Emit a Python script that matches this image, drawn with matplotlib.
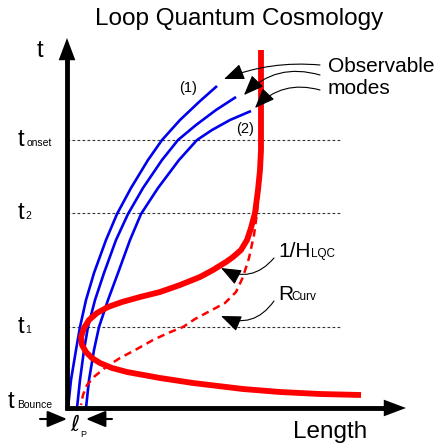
import matplotlib.pyplot as plt

plt.rcParams['font.family'] = ['Liberation Sans', 'DejaVu Sans']
plt.rcParams['mathtext.fontset'] = 'dejavusans'

# time levels (pixel rows of the sketch)
t_levels = [140, 213, 327]
t_names = ['onset', '2', '1']
t_sub_x = [27, 25, 25]

# blue observable modes (x, y)
mode1_x = [68, 71, 76, 80, 86, 94, 106, 117, 131, 148, 162, 180, 199, 217]
mode1_y = [408, 380, 350, 327, 300, 273, 240, 214, 188, 160, 140, 120, 102, 86]
mode2_x = [77, 80, 84, 88, 95, 104, 116, 128, 143, 162, 178, 196, 216, 236]
mode2_y = [408, 380, 350, 327, 300, 273, 240, 214, 188, 160, 140, 125, 110, 97]
mode3_x = [86, 89, 94, 99, 108, 118, 130, 141, 158, 179, 197, 212, 230, 251]
mode3_y = [408, 380, 350, 327, 300, 273, 240, 214, 188, 160, 140, 130, 120, 111]

# 1/H_LQC (thick red)
hub_x = [261, 261, 261, 260, 258, 255, 251, 247, 241, 233, 226, 213, 200, 180, 160, 140, 122, 108,
         97, 89, 84, 81, 82, 86, 92, 100, 112, 127, 160, 193, 243, 280, 320, 361]
hub_y = [50, 100, 150, 170, 190, 213, 228, 240, 250, 257, 262, 270, 277, 285, 292, 297, 302, 307,
         313, 320, 328, 337, 345, 352, 358, 363, 368, 372, 378, 383, 389, 392, 394, 395]

# R_curv (dashed red)
rc_x = [261, 259, 257, 254, 249, 243, 236, 225, 210, 195, 183, 168, 153, 137, 120, 106, 95, 87, 83, 81]
rc_y = [167, 190, 213, 235, 258, 277, 292, 303, 311, 319, 327, 333, 340, 349, 358, 367, 376, 385, 395, 405]

fig = plt.figure(figsize=(4.37, 4.44), dpi=100)
ax = fig.add_axes([0, 0, 1, 1])
ax.set_xlim(0, 437)
ax.set_ylim(444, 0)
ax.axis('off')

# dotted time levels
for y in t_levels:
    ax.plot([67, 340], [y, y], color='#333333', lw=0.8, ls=(0, (2.5, 2)))

# curves
for xs, ys in [(mode1_x, mode1_y), (mode2_x, mode2_y), (mode3_x, mode3_y)]:
    ax.plot(xs, ys, color='#0000ee', lw=1.9, solid_capstyle='butt', solid_joinstyle='round')
ax.plot(hub_x, hub_y, color='#ff0000', lw=4.2, solid_capstyle='butt', solid_joinstyle='round')
ax.plot(rc_x, rc_y, color='#ff0000', lw=1.8, ls=(0, (3, 2)))

# axes with arrow heads
ax.plot([67, 67], [410, 52], color='black', lw=3.5, solid_capstyle='butt')
ax.plot([65, 392], [408, 408], color='black', lw=3.5, solid_capstyle='butt')
big_head = dict(arrowstyle='-|>,head_length=1.6,head_width=0.6', color='black', lw=0,
                mutation_scale=10, shrinkA=0, shrinkB=0)
ax.annotate('', xy=(67, 38), xytext=(67, 62), arrowprops=big_head)
ax.annotate('', xy=(406, 408), xytext=(382, 408), arrowprops=big_head)

# Planck length arrows
small_head = dict(arrowstyle='-|>,head_length=1.2,head_width=0.5', color='black', lw=1.5,
                  mutation_scale=10, shrinkA=0, shrinkB=0)
ax.annotate('', xy=(67, 419), xytext=(40, 419), arrowprops=small_head)
ax.annotate('', xy=(86, 419), xytext=(112, 419), arrowprops=small_head)
ax.text(75, 431, r'$\ell$', fontsize=16, ha='center', va='baseline')
ax.text(80, 437, 'P', fontsize=6.5, ha='left', va='baseline')

# text labels
ax.text(239, 25, 'Loop Quantum Cosmology', fontsize=17.5, ha='center', va='baseline')
ax.text(40, 57, 't', fontsize=17, ha='center', va='baseline')
ax.text(330, 438, 'Length', fontsize=17.5, ha='center', va='baseline')

for y, name, sx in zip(t_levels, t_names, t_sub_x):
    ax.text(18, y + 6, 't', fontsize=17, ha='left', va='baseline')
    ax.text(sx, y + 6, name, fontsize=7.5, ha='left', va='baseline')
ax.text(8, 408, 't', fontsize=17, ha='left', va='baseline')
ax.text(17, 408, 'Bounce', fontsize=7.5, ha='left', va='baseline')

ax.text(188, 88, '(1)', fontsize=10.5, ha='center', va='center')
ax.text(245, 129, '(2)', fontsize=10.5, ha='center', va='center')

ax.text(328, 72, 'Observable', fontsize=15, ha='left', va='baseline')
ax.text(328, 94, 'modes', fontsize=15, ha='left', va='baseline')
ax.text(278, 257, '1/H', fontsize=15, ha='left', va='baseline')
ax.text(311, 257, 'LQC', fontsize=8.5, ha='left', va='baseline')
ax.text(278, 300, 'R', fontsize=15, ha='left', va='baseline')
ax.text(291, 300, 'Curv', fontsize=8.5, ha='left', va='baseline')

# pointer arrows
pointers = [((320, 65), (224, 79), 0.12),
            ((320, 75), (244, 95), 0.3),
            ((320, 90), (255, 108), 0.3),
            ((274, 258), (221, 268), -0.4),
            ((274, 301), (221, 316), -0.4)]
for start, tip, rad in pointers:
    ax.annotate('', xy=tip, xytext=start,
                arrowprops=dict(arrowstyle='-|>,head_length=1.25,head_width=0.5', color='black', lw=0.8,
                                mutation_scale=10, shrinkA=0, shrinkB=0,
                                connectionstyle='arc3,rad=%s' % rad))

fig.savefig('out.png', dpi=100)
